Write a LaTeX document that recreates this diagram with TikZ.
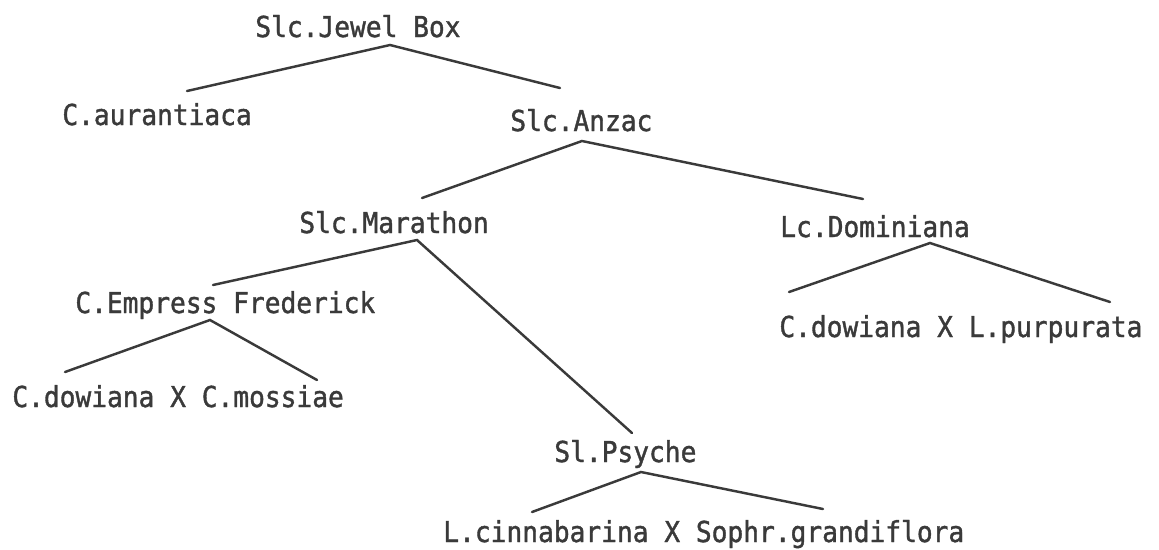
\documentclass[tikz,border=0pt]{standalone}
\usepackage{fontspec}
\newfontfamily\treefont[FakeStretch=0.91,FakeBold=1.3]{DejaVu Sans Mono}
\definecolor{ink}{HTML}{3A3A3A}
\tikzset{
  lbl/.style={anchor=base west, inner sep=0pt, font=\treefont\fontsize{16.4pt}{18pt}\selectfont, text=ink},
  branch/.style={draw=ink, line width=1.4pt, line join=miter, line cap=round}
}
\begin{document}
\begin{tikzpicture}[x=0.02cm, y=-0.02cm]
\useasboundingbox (0,0) rectangle (1159,549);
% labels
\node[lbl] (jb)  at (255,37)  {Slc.Jewel Box};
\node[lbl] (au)  at (62,125)  {C.aurantiaca};
\node[lbl] (an)  at (510,131) {Slc.Anzac};
\node[lbl] (ma)  at (299,233) {Slc.Marathon};
\node[lbl] (do)  at (780,237) {Lc.Dominiana};
\node[lbl] (em)  at (75,313)  {C.Empress Frederick};
\node[lbl] (dp)  at (779,337) {C.dowiana X L.purpurata};
\node[lbl] (dm)  at (12,407)  {C.dowiana X C.mossiae};
\node[lbl] (ps)  at (554,462) {Sl.Psyche};
\node[lbl] (cs)  at (443,542) {L.cinnabarina X Sophr.grandiflora};
% branch points
\coordinate (jbA) at (390,45);  \coordinate (jbL) at (187,91);  \coordinate (jbR) at (560,88);
\coordinate (anA) at (582,141); \coordinate (anL) at (422,198); \coordinate (anR) at (863,199);
\coordinate (maA) at (417,240); \coordinate (maL) at (213,285); \coordinate (maR) at (632,433);
\coordinate (doA) at (930,243); \coordinate (doL) at (789,292); \coordinate (doR) at (1110,302);
\coordinate (emA) at (210,320); \coordinate (emL) at (65,372);  \coordinate (emR) at (317,380);
\coordinate (psA) at (641,472); \coordinate (psL) at (532,512); \coordinate (psR) at (823,509);
% connectors
\draw[branch] (jbL) -- (jbA) -- (jbR);
\draw[branch] (anL) -- (anA) -- (anR);
\draw[branch] (maL) -- (maA) -- (maR);
\draw[branch] (doL) -- (doA) -- (doR);
\draw[branch] (emL) -- (emA) -- (emR);
\draw[branch] (psL) -- (psA) -- (psR);
\end{tikzpicture}
\end{document}
